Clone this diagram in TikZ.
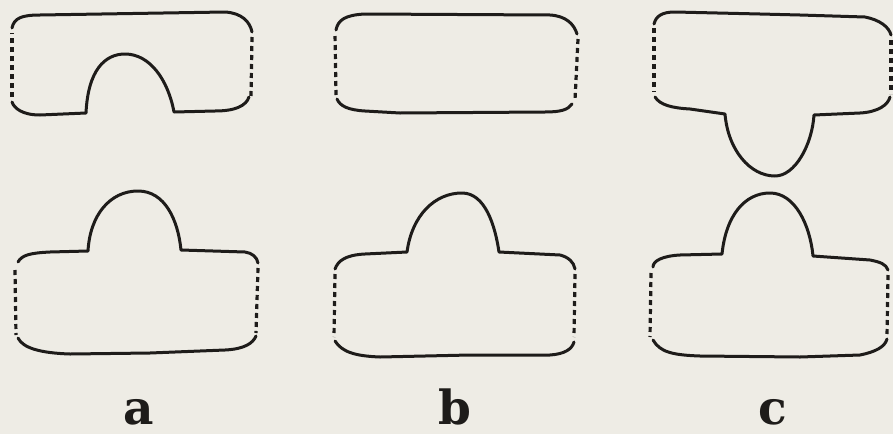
\documentclass[tikz,border=0pt]{standalone}
\usepackage{fontspec}
\newfontfamily\labfont{DejaVu Serif}
\definecolor{paper}{RGB}{238,236,229}
\definecolor{ink}{RGB}{30,28,26}
\tikzset{
  outline/.style={draw=ink, line width=3pt, line cap=round, line join=round},
  dotted side/.style={draw=ink, line width=3.2pt, dash pattern=on 5pt off 4pt},
  lab/.style={font=\labfont\bfseries\fontsize{47}{47}\selectfont, text=ink, anchor=base, inner sep=0pt}
}
\begin{document}
\begin{tikzpicture}[x=1pt,y=-1pt]
\fill[paper] (0,0) rectangle (893,434);
\useasboundingbox (0,0) rectangle (893,434);

% ---------- a top ----------
\draw[outline] (12,28) .. controls (14,18) and (22,15) .. (40,15) -- (225,12) .. controls (242,13) and (250,22) .. (252,32);
\draw[dotted side] (252,37) -- (251,97);
\draw[outline] (249,97) .. controls (246,106) and (235,111) .. (215,111) -- (174,112)
  .. controls (168,80) and (150,54) .. (125,54) .. controls (105,54) and (88,70) .. (86,113)
  -- (40,115) .. controls (22,115) and (14,108) .. (12,102);
\draw[dotted side] (12,97) -- (12,33);

% ---------- a bottom ----------
\draw[outline] (18,262) .. controls (22,255) and (30,253) .. (50,252) -- (88,251)
  .. controls (90,215) and (110,191) .. (138,191) .. controls (165,191) and (178,220) .. (181,250)
  -- (245,252) .. controls (252,253) and (257,257) .. (258,263);
\draw[dotted side] (258,268) -- (256,333);
\draw[dotted side] (15,270) -- (16,335);
\draw[outline] (18,338) .. controls (23,348) and (40,353) .. (70,354) -- (150,353) -- (225,350) .. controls (245,349) and (253,343) .. (256,336);

% ---------- b top ----------
\draw[outline] (336,30) .. controls (338,20) and (345,15) .. (365,14) -- (550,15) .. controls (566,16) and (574,24) .. (577,34);
\draw[dotted side] (578,39) -- (575,100);
\draw[outline] (572,104) .. controls (568,110) and (560,112) .. (545,112) -- (400,113) -- (365,111) .. controls (348,110) and (340,106) .. (337,99);
\draw[dotted side] (336,95) -- (335,33);

% ---------- b bottom ----------
\draw[outline] (335,269) .. controls (338,261) and (345,255) .. (365,254) -- (407,252)
  .. controls (412,215) and (435,193) .. (462,193) .. controls (485,193) and (495,225) .. (499,252)
  -- (560,255) .. controls (568,257) and (574,262) .. (575,269);
\draw[dotted side] (335,274) -- (334,337);
\draw[dotted side] (575,274) -- (574,337);
\draw[outline] (335,341) .. controls (342,352) and (355,356) .. (380,357) -- (470,355) -- (550,355) .. controls (565,354) and (572,349) .. (574,342);

% ---------- c top ----------
\draw[dotted side] (654,28) -- (654,92);
\draw[outline] (654,24) .. controls (656,16) and (662,12) .. (675,12) -- (760,14) -- (800,15) -- (865,17) .. controls (880,20) and (889,27) .. (891,35);
\draw[dotted side] (891,40) -- (891,94);
\draw[outline] (655,97) .. controls (660,105) and (672,108) .. (690,109) -- (725,114)
  .. controls (728,150) and (750,176) .. (775,176) .. controls (795,176) and (812,145) .. (814,115)
  -- (860,113) .. controls (878,112) and (888,105) .. (890,97);

% ---------- c bottom ----------
\draw[outline] (653,267) .. controls (653,261) and (662,256) .. (680,255) -- (722,254)
  .. controls (726,215) and (745,193) .. (770,193) .. controls (795,193) and (810,225) .. (813,256)
  -- (870,260) .. controls (880,262) and (886,264) .. (888,270);
\draw[dotted side] (651,273) -- (650,337);
\draw[dotted side] (888,275) -- (887,336);
\draw[outline] (653,340) .. controls (660,352) and (672,355) .. (700,356) -- (800,357) -- (860,355) .. controls (875,352) and (885,347) .. (887,339);

% ---------- labels ----------
\node[lab] (la) at (139,424) {a};
\node[lab] (lb) at (455,424) {b};
\node[lab] (lc) at (773,424) {c};
\end{tikzpicture}
\end{document}
